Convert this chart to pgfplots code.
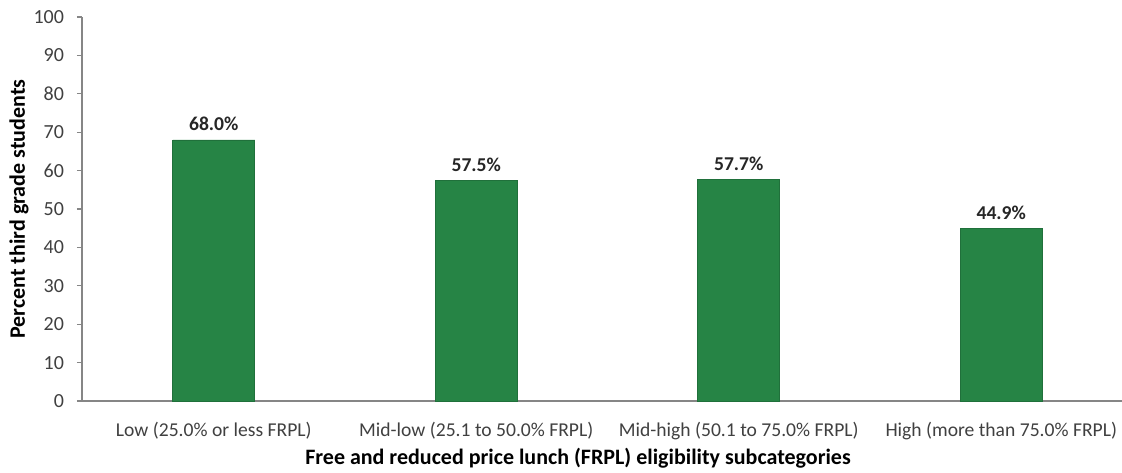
\documentclass[border=0pt]{standalone}
\usepackage{pgfplots}
\pgfplotsset{compat=1.18}
\usepackage{fontspec}
\setmainfont{Carlito}

\definecolor{bargreen}{RGB}{38,132,69}
\definecolor{axisgray}{RGB}{134,134,134}
\definecolor{textgray}{RGB}{64,64,64}

\begin{document}
\begin{tikzpicture}
\useasboundingbox (-41pt,-35.5pt) rectangle (520pt,200.5pt);
\begin{axis}[
    at={(0,0)}, anchor=south west,
    scale only axis,
    width=520pt, height=192pt,
    ybar, bar width=41pt,
    xmin=-0.502, xmax=3.46,
    ymin=0, ymax=100,
    ytick={0,10,...,100},
    xtick={0,1,2,3},
    xticklabels={Low (25.0\% or less FRPL), Mid-low (25.1 to 50.0\% FRPL), Mid-high (50.1 to 75.0\% FRPL), High (more than 75.0\% FRPL)},
    axis x line*=bottom, axis y line*=left,
    axis line style={axisgray, line width=0.6pt},
    x axis line style={-}, y axis line style={-},
    major x tick style={draw=none},
    major y tick style={axisgray, line width=0.6pt},
    tick align=outside, major tick length=2.5pt,
    /pgf/number format/assume math mode=true,
    xticklabel style={font=\fontsize{9.8}{11}\selectfont, text=textgray, yshift=-4.5pt},
    yticklabel style={font=\fontsize{10}{12}\selectfont, text=textgray, xshift=-3pt},
    ylabel={\textbf{Percent third grade students}},
    ylabel style={font=\fontsize{11}{13}\selectfont, at={(axis description cs:0,0.5)}, anchor=center, yshift=31.5pt},
    xlabel={\textbf{Free and reduced price lunch (FRPL) eligibility subcategories}},
    xlabel style={font=\fontsize{11}{13}\selectfont, at={(axis description cs:0.5,0)}, anchor=center, xshift=-12pt, yshift=-28.5pt},
    nodes near coords={\pgfmathprintnumber[fixed, fixed zerofill, precision=1]{\pgfplotspointmeta}\%},
    nodes near coords style={font=\bfseries\fontsize{9.8}{11}\selectfont, text=black!85, anchor=south, yshift=1pt},
    clip=false,
]
\addplot[fill=bargreen, draw=bargreen!85!black, line width=0.3pt] coordinates {
    (0, 68.0)
    (1, 57.5)
    (2, 57.7)
    (3, 44.9)
};
\end{axis}
\end{tikzpicture}
\end{document}
